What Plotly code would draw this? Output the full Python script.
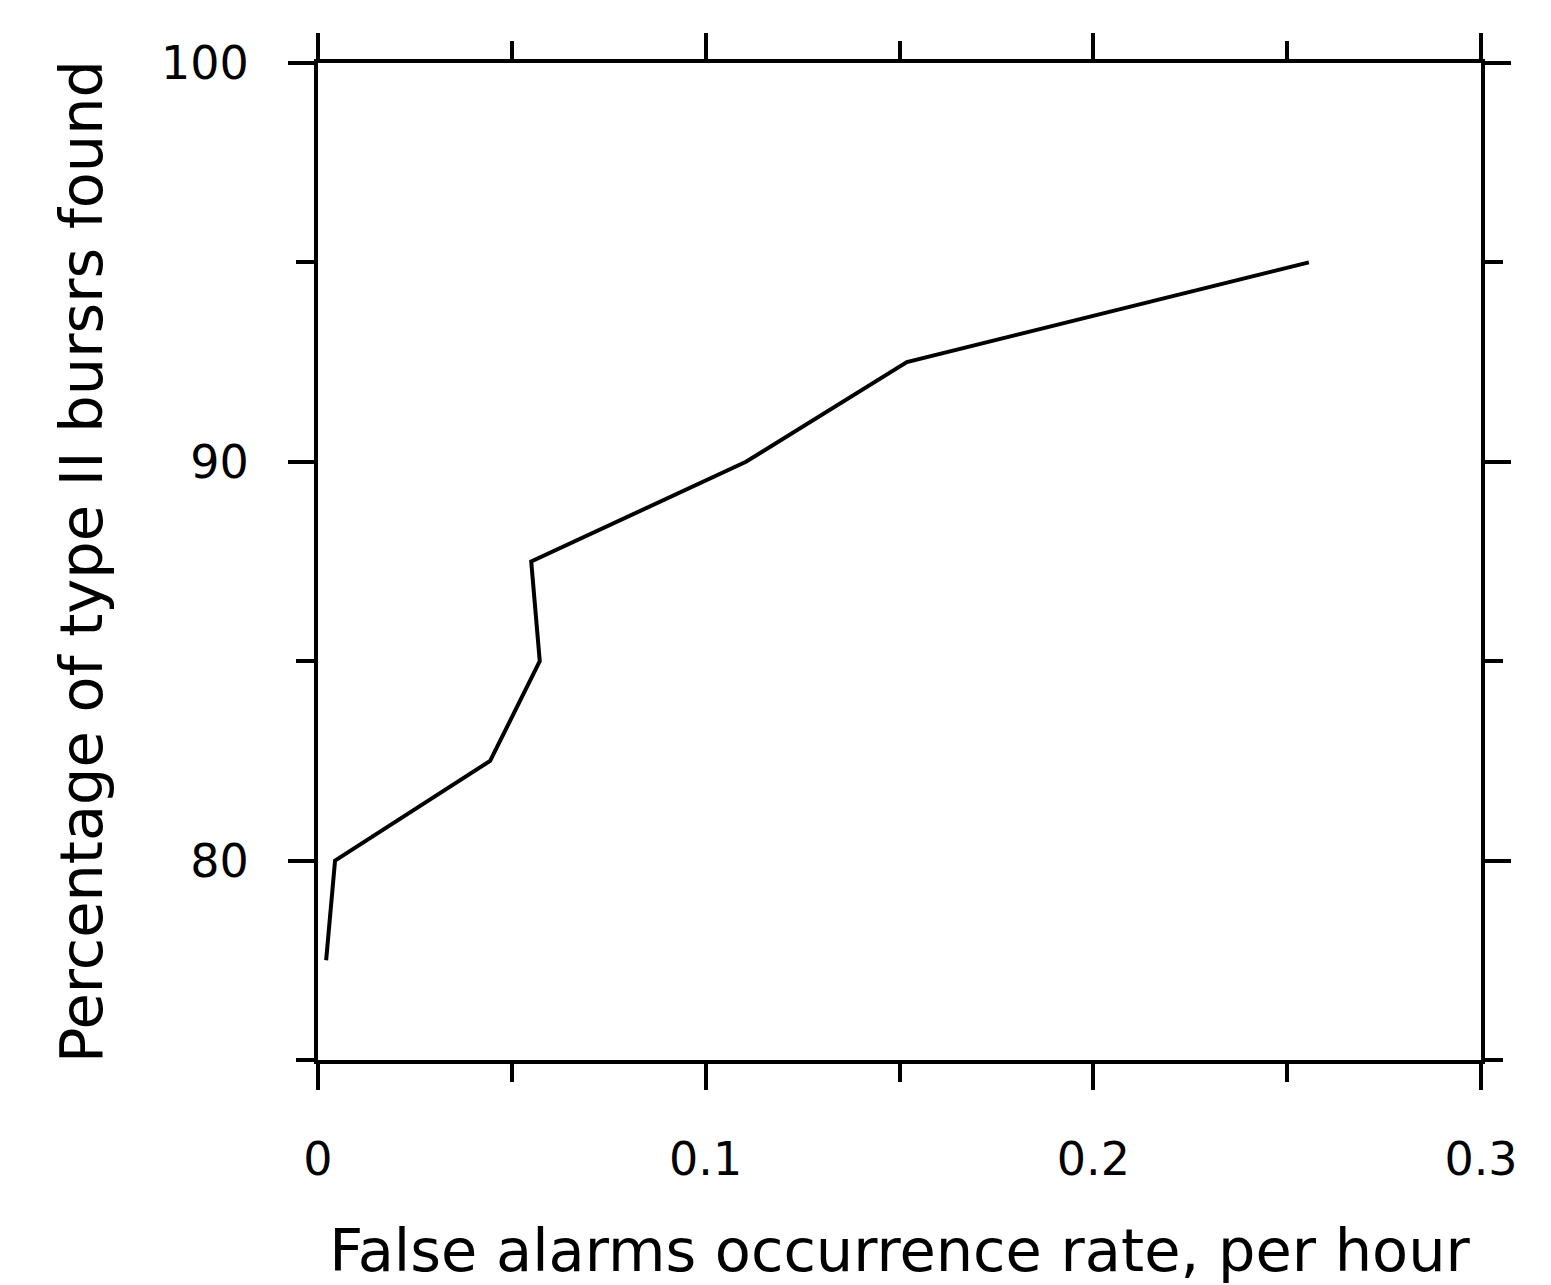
import plotly.graph_objects as go

false_alarm_rate = [0.0021, 0.0044, 0.0444, 0.0572, 0.0550, 0.1104, 0.1519, 0.2556]
pct_found = [77.5, 80, 82.5, 85, 87.5, 90, 92.5, 95]

fig = go.Figure()
fig.add_trace(go.Scatter(x=false_alarm_rate, y=pct_found, mode="lines",
                         line=dict(color="black", width=4), showlegend=False))

axis_common = dict(
    showgrid=False, zeroline=False, showline=True, linecolor="black", linewidth=4,
    mirror="ticks", ticks="outside", tickcolor="black", tickwidth=4, ticklen=26,
    tickfont=dict(family="DejaVu Sans", size=46, color="black"), automargin=False,
)

fig.update_xaxes(range=[0, 0.3], tickvals=[0, 0.1, 0.2, 0.3], ticktext=["0", "0.1", "0.2", "0.3"],
                 minor=dict(tickvals=[0.05, 0.15, 0.25], ticks="outside", ticklen=18, tickwidth=4, tickcolor="black"),
                 ticklabelstandoff=30,
                 title=dict(text="False alarms occurrence rate, per hour",
                            font=dict(family="DejaVu Sans", size=59, color="black"), standoff=50),
                 **axis_common)
fig.update_yaxes(range=[75, 100], tickvals=[80, 90, 100], ticktext=["80", "90", "100"],
                 minor=dict(tickvals=[75, 85, 95], ticks="outside", ticklen=18, tickwidth=4, tickcolor="black"),
                 ticklabelstandoff=30,
                 title=dict(text="Percentage of type II bursrs found",
                            font=dict(family="DejaVu Sans", size=59, color="black"), standoff=40),
                 **axis_common)

fig.update_layout(width=1551, height=1285, paper_bgcolor="white", plot_bgcolor="white",
                  margin=dict(l=318, r=70, t=63, b=225))
fig.write_html("out.html")
